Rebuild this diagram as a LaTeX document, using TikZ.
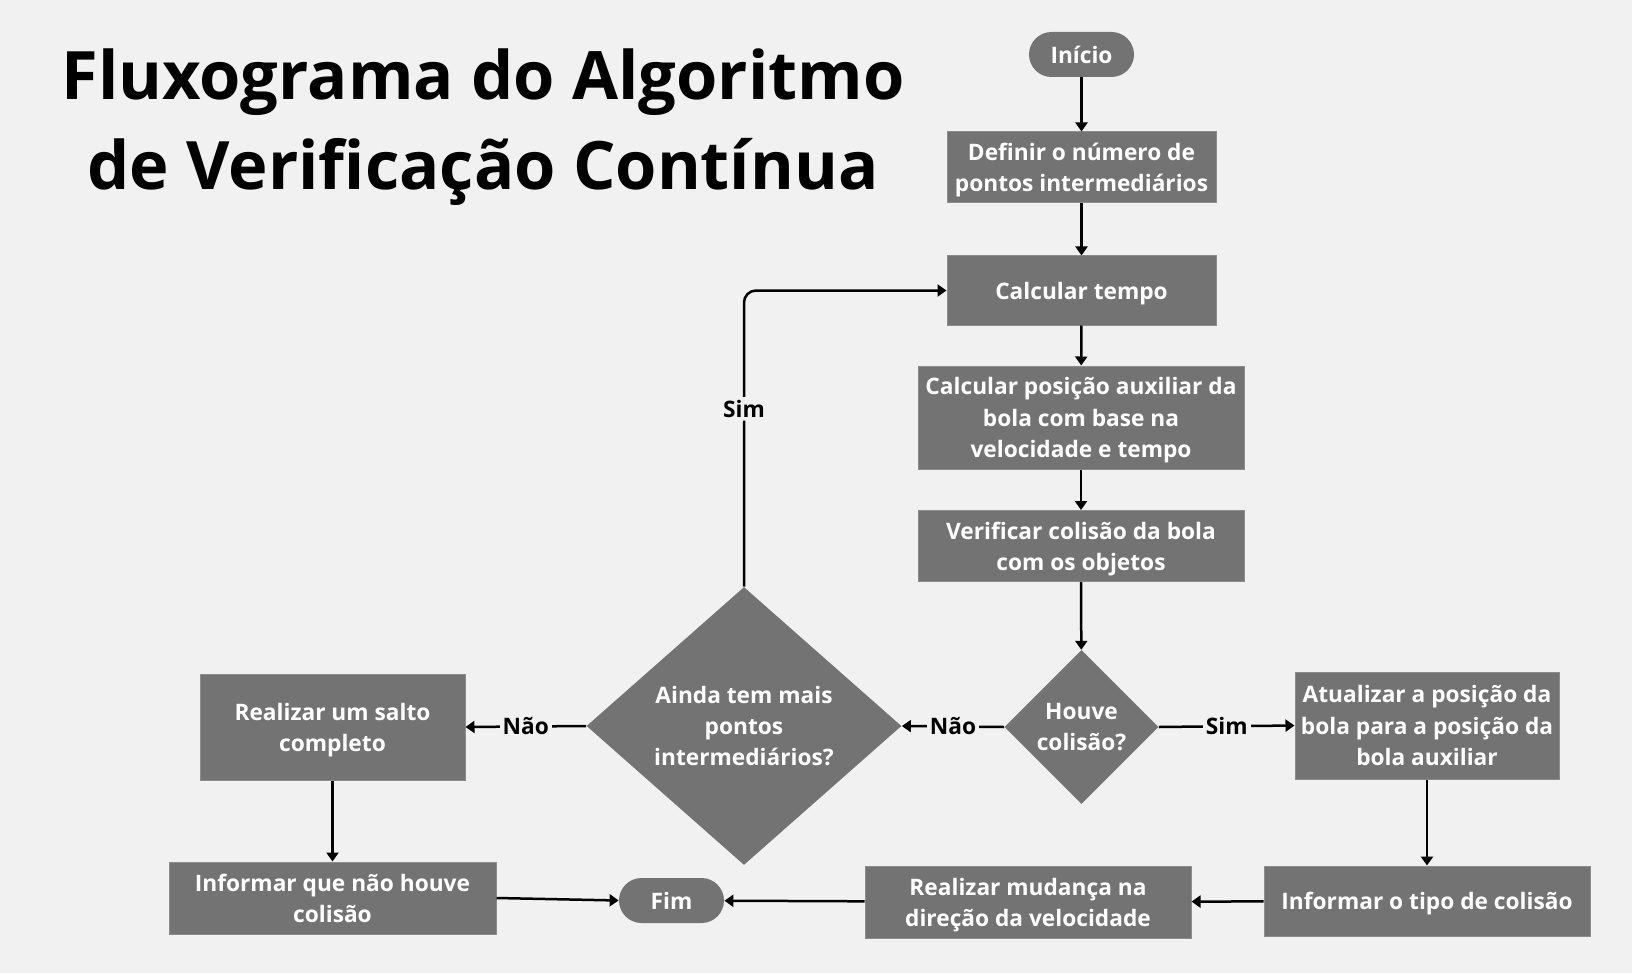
\documentclass[tikz,border=0pt]{standalone}
\usepackage{fontspec}
\setmainfont{Open Sans}
\usetikzlibrary{arrows.meta,shapes.geometric}
\definecolor{bg}{HTML}{F1F1F1}
\definecolor{boxg}{HTML}{737373}
\definecolor{boxe}{HTML}{8C8C8C}
\begin{document}
\begin{tikzpicture}[x=0.5pt,y=-0.5pt,
  txt/.style={font=\bfseries\fontsize{11.35}{15.6}\selectfont, text=white, align=center, inner sep=0pt, text depth=0pt},
  boxn/.style={txt, rectangle, fill=boxg, draw=boxe, line width=0.5pt},
  term/.style={txt, rectangle, fill=boxg, minimum width=52.5pt, minimum height=22.5pt, rounded corners=11.25pt},
  dec/.style={txt, diamond, fill=boxg},
  arr/.style={draw=black, line width=1.25pt, -{Triangle[length=4.5pt,width=6pt]}},
  lbl/.style={font=\bfseries\fontsize{11.35}{15.6}\selectfont, text=black, fill=bg, inner sep=1.5pt},
  ttl/.style={font=\bfseries\fontsize{33.4}{45}\selectfont, text=black, anchor=base, inner sep=0pt}
]
\fill[bg] (0,0) rectangle (1632,973);
\useasboundingbox (0,0) rectangle (1632,973);

\node[ttl] (title1) at (483,100) {Fluxograma do Algoritmo};
\node[ttl] (title2) at (483,190) {de Verificação Contínua};

\node[term] (ini) at (1081.5,54.5) {Início};
\node[boxn, minimum width=134.5pt, minimum height=35.5pt] (def) at (1081.5,167.5) {Definir o número de\\pontos intermediários};
\node[boxn, minimum width=134.5pt, minimum height=34.5pt] (ct) at (1081.5,290.5) {Calcular tempo};
\node[boxn, minimum width=163pt, minimum height=51.5pt] (cp) at (1081,417.5) {Calcular posição auxiliar da\\bola com base na\\velocidade e tempo};
\node[boxn, minimum width=163pt, minimum height=35.5pt] (ver) at (1081,546) {Verificar colisão da bola\\com os objetos};
\node[dec, minimum width=77pt, minimum height=77pt] (houve) at (1081.5,727) {Houve\\colisão?};
\node[dec, minimum width=157.5pt, minimum height=139pt] (ainda) at (744,726) {Ainda tem mais\\pontos\\intermediários?};
\node[boxn, minimum width=132pt, minimum height=53.5pt] (atu) at (1427,725.5) {Atualizar a posição da\\bola para a posição da\\bola auxiliar};
\node[boxn, minimum width=163pt, minimum height=35pt] (itipo) at (1427,901) {Informar o tipo de colisão};
\node[boxn, minimum width=163pt, minimum height=36pt] (rm) at (1028,902) {Realizar mudança na\\direção da velocidade};
\node[term] (fim) at (671.5,900.5) {Fim};
\node[boxn, minimum width=132.5pt, minimum height=53pt] (salto) at (332.5,727) {Realizar um salto\\completo};
\node[boxn, minimum width=163.5pt, minimum height=36pt] (inao) at (332.5,898) {Informar que não houve\\colisão};

\draw[arr] (ini) -- (def);
\draw[arr] (def) -- (ct);
\draw[arr] (ct) -- (cp);
\draw[arr] (cp) -- (ver);
\draw[arr] (ver) -- (houve);
\draw[arr] (houve.west) -- node[lbl]{Não} (ainda.east);
\draw[arr] (houve.east) -- node[lbl]{Sim} (atu.west);
\draw[arr] (atu) -- (itipo);
\draw[arr] (itipo) -- (rm);
\draw[arr] (rm) -- (fim);
\draw[arr] (ainda.west) -- node[lbl]{Não} (salto.east);
\draw[arr] (salto) -- (inao);
\draw[arr] (inao.east) -- (fim.west);
\draw[arr, rounded corners=6pt] (ainda.north) -- node[lbl, pos=0.6]{Sim} (ainda.north |- ct.west) -- (ct.west);
\end{tikzpicture}
\end{document}
